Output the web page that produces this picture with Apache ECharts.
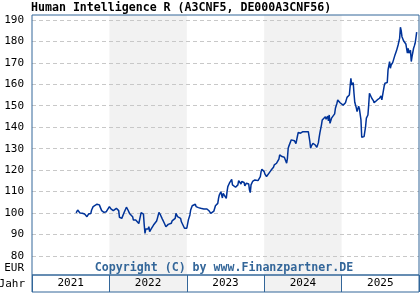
<!DOCTYPE html>
<html><head><meta charset="utf-8">
<script src="https://cdn.jsdelivr.net/npm/echarts@6/dist/echarts.min.js"></script>
<style>html,body{margin:0;padding:0;background:#fff}#c{width:420px;height:300px}</style>
</head><body><div id="c"></div>
<script>
const titleText = 'Human Intelligence R (A3CNF5, DE000A3CNF56)';
const copyrightText = 'Copyright (C) by www.Finanzpartner.DE';
const yearCategories = ['2021', '2022', '2023', '2024', '2025'];
const yTicks = [80, 90, 100, 110, 120, 130, 140, 150, 160, 170, 180, 190];
const unitLabel = 'EUR';
const unitLabelPos = 74.4;
const shadedYears = [[2022, 2023], [2024, 2025]];
// time as decimal years
const dates = [
 2021.57,2021.59,2021.60,2021.62,2021.63,2021.65,2021.67,2021.68,2021.70,2021.71,2021.73,2021.74,2021.76,2021.77,2021.79,2021.81,2021.84,2021.86,2021.87,2021.89,2021.90,2021.92,2021.93,2021.96,2021.98,
 2022.00,2022.02,2022.03,2022.05,2022.07,2022.09,2022.11,2022.12,2022.13,2022.15,2022.16,2022.17,2022.19,2022.21,2022.22,2022.24,2022.26,2022.27,2022.28,2022.30,2022.31,2022.33,2022.34,2022.36,2022.38,2022.40,2022.41,2022.43,2022.44,2022.45,2022.46,2022.47,
 2022.49,2022.50,2022.51,2022.52,2022.54,2022.55,2022.57,2022.59,2022.61,2022.62,2022.64,2022.66,2022.68,2022.70,2022.71,2022.73,2022.74,2022.76,2022.78,2022.80,2022.81,2022.83,2022.85,2022.86,2022.88,2022.90,2022.92,2022.93,2022.95,2022.97,2022.99,
 2023.00,2023.02,2023.04,2023.05,2023.07,2023.09,2023.11,2023.12,2023.15,2023.18,2023.22,2023.26,2023.29,2023.31,2023.32,2023.33,2023.35,2023.37,2023.39,2023.40,2023.41,2023.42,2023.44,2023.46,2023.47,2023.49,2023.51,2023.52,2023.53,2023.55,2023.57,2023.58,2023.59,2023.61,2023.63,2023.65,2023.66,2023.67,2023.69,2023.70,2023.71,2023.73,2023.74,2023.75,2023.77,2023.78,2023.80,2023.81,2023.82,2023.83,2023.85,2023.86,2023.88,2023.90,2023.92,2023.93,2023.95,2023.96,2023.97,2023.98,
 2024.00,2024.01,2024.03,2024.05,2024.06,2024.08,2024.09,2024.10,2024.12,2024.13,2024.14,2024.16,2024.18,2024.19,2024.20,2024.22,2024.23,2024.25,2024.26,2024.27,2024.29,2024.30,2024.31,2024.32,2024.34,2024.35,2024.37,2024.39,2024.40,2024.41,2024.43,2024.44,2024.47,2024.48,2024.50,2024.53,2024.55,2024.57,2024.59,2024.60,2024.61,2024.63,2024.64,2024.66,2024.67,2024.68,2024.70,2024.71,2024.72,2024.74,2024.75,2024.77,2024.79,2024.80,2024.82,2024.83,2024.84,2024.85,2024.87,2024.89,2024.91,2024.92,2024.94,2024.95,2024.97,2024.98,
 2025.00,2025.02,2025.03,2025.05,2025.07,2025.08,2025.10,2025.11,2025.12,2025.13,2025.15,2025.16,2025.17,2025.19,2025.20,2025.22,2025.23,2025.25,2025.26,2025.28,2025.29,2025.31,2025.32,2025.34,2025.35,2025.36,2025.38,2025.39,2025.41,2025.42,2025.44,2025.46,2025.47,2025.49,2025.51,2025.52,2025.53,2025.55,2025.56,2025.58,2025.59,2025.60,2025.62,2025.63,2025.64,2025.66,2025.67,2025.69,2025.71,2025.72,2025.73,2025.75,2025.76,2025.77,2025.78,2025.80,2025.81,2025.83,2025.84,2025.85,2025.86,2025.87,2025.89,2025.90,2025.91,2025.93,2025.94,2025.95,2025.96,2025.97
];
const prices = [
 100.1,101.4,101.0,100.0,100.6,99.9,100.2,99.5,98.9,98.3,99.5,98.6,99.8,101.4,103.0,103.8,104.1,104.5,103.8,103.3,101.1,100.2,100.3,100.6,101.4,
 103.0,101.9,102.2,101.1,100.9,102.2,103.0,101.1,98.0,98.6,97.5,98.3,100.2,101.1,102.7,101.4,99.8,100.4,99.5,98.3,96.7,97.5,96.7,95.9,95.1,95.9,100.2,101.1,99.5,94.4,90.5,92.6,
 93.2,92.6,93.6,91.3,92.6,93.2,94.4,95.2,96.3,97.5,100.3,99.1,97.5,96.7,95.2,93.6,94.4,94.7,95.6,95.2,96.3,96.7,97.5,99.8,98.3,99.1,97.5,95.9,94.4,92.9,93.3,
 92.9,96.7,99.1,101.4,103.4,104.1,104.1,103.0,102.5,102.2,101.9,101.9,100.9,99.8,99.4,99.4,100.9,103.4,103.0,104.5,106.8,108.4,109.9,107.0,109.2,108.9,106.8,110.0,112.3,113.9,114.7,115.7,113.1,112.3,112.0,111.5,113.1,115.1,114.2,113.5,114.7,113.9,114.2,112.7,113.9,114.2,113.5,110.7,109.5,113.1,114.7,115.1,115.4,115.7,115.1,115.1,117.0,119.3,120.4,121.3,
 119.3,118.1,117.0,117.7,118.5,118.8,120.0,119.7,121.3,122.4,121.9,123.2,123.5,125.1,127.1,126.6,126.3,127.1,126.0,126.6,123.2,125.5,130.2,131.3,132.2,134.1,134.8,133.7,133.0,132.3,135.9,137.6,137.2,137.5,137.9,137.9,138.4,137.9,133.3,130.2,131.3,132.5,133.3,131.7,130.9,130.6,132.8,135.3,137.5,141.1,143.4,144.2,144.9,143.7,145.2,143.0,145.7,141.8,144.2,143.7,146.2,148.8,151.2,152.7,151.9,151.4,
 150.8,150.3,149.6,151.4,153.9,153.0,155.0,158.9,162.8,159.7,160.8,155.8,151.6,149.0,147.3,149.8,148.6,143.4,135.3,135.3,135.6,140.3,144.2,145.7,150.3,155.8,155.0,153.5,152.4,151.4,151.9,152.7,153.5,153.5,154.6,152.7,155.0,159.2,160.5,160.2,160.8,166.7,170.6,167.5,169.0,170.1,170.6,173.7,175.7,176.3,178.3,181.5,186.6,185.0,182.2,180.3,179.9,178.8,178.3,174.5,176.8,174.5,175.9,170.6,172.9,176.8,177.9,179.1,181.5,184.3
];

const BORDER = '#336699';
const MONO = '"DejaVu Sans Mono", "Liberation Mono", monospace';
const chart = echarts.init(document.getElementById('c'), null, {renderer: 'canvas'});
const seriesData = dates.map((d, i) => [d, prices[i]]);
chart.setOption({
  animation: false,
  backgroundColor: '#fff',
  grid: [
    {left: 32, top: 15, width: 387, height: 260, show: true, borderColor: BORDER, borderWidth: 1, backgroundColor: 'transparent', z: 3},
    {left: 32, top: 275, width: 387, height: 17, show: true, borderColor: BORDER, borderWidth: 1, backgroundColor: 'transparent', z: 3}
  ],
  xAxis: [
    {type: 'value', gridIndex: 0, min: 2021, max: 2026, show: false},
    {type: 'category', gridIndex: 1, data: yearCategories, boundaryGap: true, position: 'bottom',
     axisLine: {show: false}, axisTick: {show: false},
     axisLabel: {inside: true, margin: 3, fontFamily: MONO, fontSize: 11, color: '#000'},
     splitLine: {show: true, lineStyle: {color: BORDER, width: 1}},
     splitArea: {show: true, areaStyle: {color: ['rgba(255,255,255,0)', '#f2f2f2']}}}
  ],
  yAxis: [
    {type: 'value', gridIndex: 0, min: 71.1, max: 192.3, position: 'left', z: 1.5,
     axisLine: {show: false},
     axisTick: {show: false, customValues: yTicks},
     axisLabel: {customValues: yTicks.concat([unitLabelPos]), margin: 8, fontFamily: MONO, fontSize: 11, color: '#000',
       formatter: v => (v === unitLabelPos ? unitLabel : String(v))},
     splitLine: {show: true, lineStyle: {color: '#c8c8c8', width: 1, type: [4, 3]}}},
    {type: 'value', gridIndex: 1, show: false}
  ],
  series: [{
    type: 'line', xAxisIndex: 0, yAxisIndex: 0, data: seriesData, showSymbol: false, z: 2,
    lineStyle: {color: '#003399', width: 1.5}, itemStyle: {color: '#003399'},
    markArea: {silent: true, z: 1, itemStyle: {color: '#f2f2f2'},
      data: shadedYears.map(p => [{xAxis: p[0]}, {xAxis: p[1]}])}
  }],
  graphic: [
    {type: 'text', left: 31, top: 2, style: {text: titleText, font: 'bold 11.6px ' + MONO, fill: '#000'}},
    {type: 'text', x: 224, y: 268, style: {text: copyrightText, font: 'bold 11.6px ' + MONO, fill: BORDER, align: 'center', verticalAlign: 'middle'}, z: 10},
    {type: 'text', x: 25, y: 284, style: {text: 'Jahr', font: '11px ' + MONO, fill: '#000', align: 'right', verticalAlign: 'middle'}}
  ]
});
</script></body></html>
